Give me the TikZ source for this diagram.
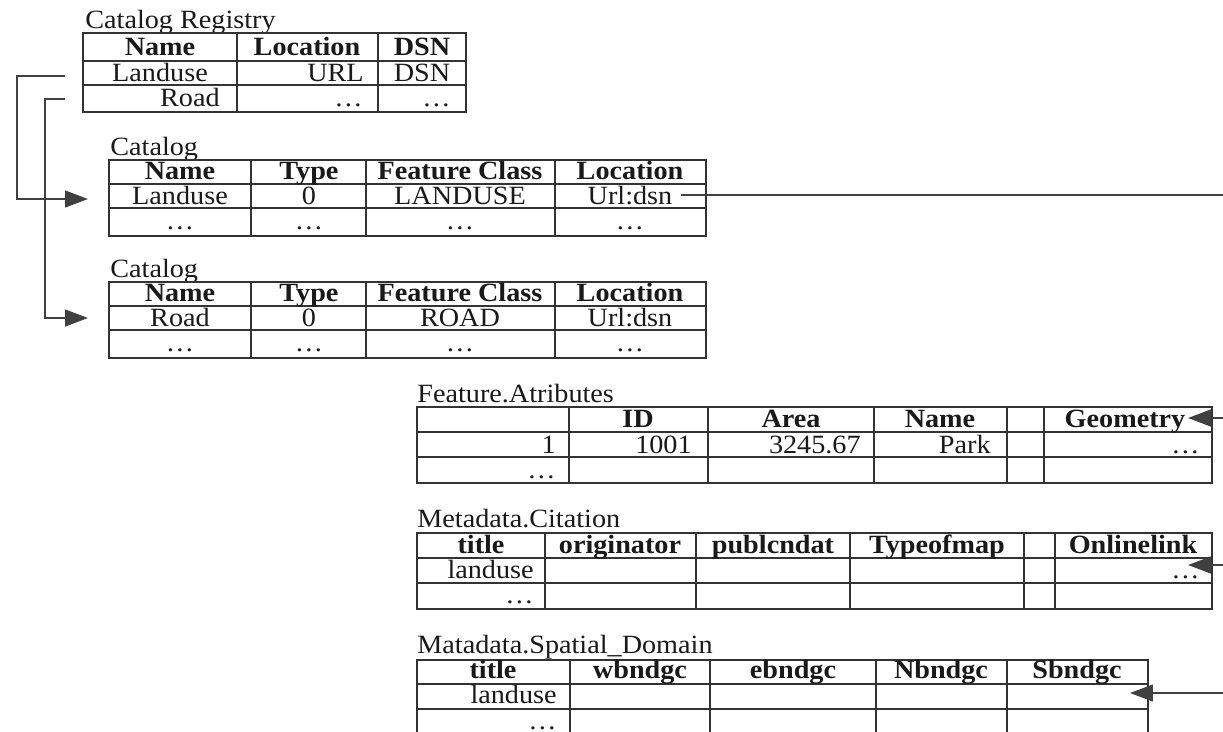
\documentclass[tikz,border=0pt]{standalone}
\usepackage{fontspec}
\setmainfont[FakeStretch=1.07]{Liberation Serif}
\usetikzlibrary{arrows.meta}

\tikzset{
  tabline/.style={draw=black!80, line width=1pt},
  hd/.style={font=\fontsize{15}{18}\selectfont\bfseries},
  conn/.style={draw=black!75, line width=1.2pt},
}

\begin{document}
\begin{tikzpicture}[x=0.02cm, y=-0.02cm,
  every node/.style={font=\fontsize{15}{18}\selectfont, inner sep=0pt, text=black!90},
  >={Triangle[length=13pt, width=9.5pt]}]
  \useasboundingbox (0,0) rectangle (1223,731);
  \clip (0,0) rectangle (1223,731);
  \coordinate (edge) at (1226,0);

  % Catalog registry
  \begin{scope}[shift={(83,33)}]
    \node[anchor=base west] (regT) at (2,-5) {Catalog Registry};
    \draw[tabline] (0,0) rectangle (383,79);
    \foreach \y in {28,52} \draw[tabline] (0,\y) -- (383,\y);
    \foreach \x in {154,295} \draw[tabline] (\x,0) -- (\x,79);
    \node[hd, anchor=base] (regName) at (77,22) {Name};
    \node[hd, anchor=base] (regLoc) at (224,22) {Location};
    \node[hd, anchor=base] (regDsn) at (339,22) {DSN};
    \node[anchor=base] (regLanduse) at (77,48) {Landuse};
    \node[anchor=base east] (regUrl) at (281,48) {URL};
    \node[anchor=base] (regDsnVal) at (339,48) {DSN};
    \node[anchor=base east] (regRoad) at (137,73) {Road};
    \node[anchor=base east] (regDotsA) at (280,73) {\ldots};
    \node[anchor=base east] (regDotsB) at (368,73) {\ldots};
    \coordinate (regOut) at (-18,43);
    \coordinate (regIn) at (-18,66);
  \end{scope}

  % Catalog: landuse
  \begin{scope}[shift={(109,160)}]
    \node[anchor=base west] (catAT) at (1,-5) {Catalog};
    \draw[tabline] (0,0) rectangle (597,76);
    \foreach \y in {24,48} \draw[tabline] (0,\y) -- (597,\y);
    \foreach \x in {142,257,446} \draw[tabline] (\x,0) -- (\x,76);
    \node[hd, anchor=base] (catAName) at (71,19) {Name};
    \node[hd, anchor=base] (catAType) at (200,19) {Type};
    \node[hd, anchor=base] (catAClass) at (351,19) {Feature Class};
    \node[hd, anchor=base] (catALoc) at (521,19) {Location};
    \node[anchor=base] (catALanduse) at (71,44) {Landuse};
    \node[anchor=base] (catAZero) at (200,44) {0};
    \node[anchor=base] (catAFc) at (351,44) {LANDUSE};
    \node[anchor=base] (catAUrl) at (521,44) {Url:dsn};
    \foreach \x/\n in {71/a,200/b,351/c,521/d}
      \node[anchor=base] (catADots\n) at (\x,69) {\ldots};
    \coordinate (catATip) at (-21,39);
  \end{scope}

  % Catalog: road
  \begin{scope}[shift={(109,282)}]
    \node[anchor=base west] (catBT) at (1,-5) {Catalog};
    \draw[tabline] (0,0) rectangle (597,76);
    \foreach \y in {24,48} \draw[tabline] (0,\y) -- (597,\y);
    \foreach \x in {142,257,446} \draw[tabline] (\x,0) -- (\x,76);
    \node[hd, anchor=base] (catBName) at (71,19) {Name};
    \node[hd, anchor=base] (catBType) at (200,19) {Type};
    \node[hd, anchor=base] (catBClass) at (351,19) {Feature Class};
    \node[hd, anchor=base] (catBLoc) at (521,19) {Location};
    \node[anchor=base] (catBRoad) at (71,44) {Road};
    \node[anchor=base] (catBZero) at (200,44) {0};
    \node[anchor=base] (catBFc) at (351,44) {ROAD};
    \node[anchor=base] (catBUrl) at (521,44) {Url:dsn};
    \foreach \x/\n in {71/a,200/b,351/c,521/d}
      \node[anchor=base] (catBDots\n) at (\x,69) {\ldots};
    \coordinate (catBTip) at (-21,36);
  \end{scope}

  % Feature attributes
  \begin{scope}[shift={(417,407)}]
    \node[anchor=base west] (featT) at (0,-5) {Feature.Atributes};
    \draw[tabline] (0,0) rectangle (795,76);
    \foreach \y in {25,50} \draw[tabline] (0,\y) -- (795,\y);
    \foreach \x in {152,291,457,590,627} \draw[tabline] (\x,0) -- (\x,76);
    \node[hd, anchor=base] (featId) at (221,20) {ID};
    \node[hd, anchor=base] (featArea) at (374,20) {Area};
    \node[hd, anchor=base] (featName) at (523,20) {Name};
    \node[hd, anchor=base] (featGeom) at (708,20) {Geometry};
    \node[anchor=base east] (featOne) at (139,46) {1};
    \node[anchor=base east] (featIdVal) at (275,46) {1001};
    \node[anchor=base east] (featAreaVal) at (444,46) {3245.67};
    \node[anchor=base east] (featPark) at (574,46) {Park};
    \node[anchor=base east] (featDotsA) at (783,46) {\ldots};
    \node[anchor=base east] (featDotsB) at (139,71) {\ldots};
    \coordinate (geomTip) at (771,11);
  \end{scope}

  % Metadata citation
  \begin{scope}[shift={(417,533)}]
    \node[anchor=base west] (citeT) at (0,-6) {Metadata.Citation};
    \draw[tabline] (0,0) rectangle (795,76);
    \foreach \y in {25,50} \draw[tabline] (0,\y) -- (795,\y);
    \foreach \x in {128,279,433,607,638} \draw[tabline] (\x,0) -- (\x,76);
    \node[hd, anchor=base] (citeTitle) at (64,20) {title};
    \node[hd, anchor=base] (citeOrig) at (203,20) {originator};
    \node[hd, anchor=base] (citePub) at (356,20) {publcndat};
    \node[hd, anchor=base] (citeType) at (520,20) {Typeofmap};
    \node[hd, anchor=base] (citeLink) at (716,20) {Onlinelink};
    \node[anchor=base east] (citeLanduse) at (117,45) {landuse};
    \node[anchor=base east] (citeDotsA) at (783,45) {\ldots};
    \node[anchor=base east] (citeDotsB) at (117,70) {\ldots};
    \coordinate (citeTip) at (771,32);
  \end{scope}

  % Metadata spatial domain
  \begin{scope}[shift={(417,660)}]
    \node[anchor=base west] (spatT) at (0,-7) {Matadata.Spatial\_Domain};
    \draw[tabline] (0,0) rectangle (731,75);
    \foreach \y in {24,49} \draw[tabline] (0,\y) -- (731,\y);
    \foreach \x in {153,293,459,590} \draw[tabline] (\x,0) -- (\x,75);
    \node[hd, anchor=base] (spatTitle) at (76,18) {title};
    \node[hd, anchor=base] (spatW) at (223,18) {wbndgc};
    \node[hd, anchor=base] (spatE) at (376,18) {ebndgc};
    \node[hd, anchor=base] (spatN) at (524,18) {Nbndgc};
    \node[hd, anchor=base] (spatS) at (660,18) {Sbndgc};
    \node[anchor=base east] (spatLanduse) at (140,43) {landuse};
    \node[anchor=base east] (spatDots) at (140,69) {\ldots};
    \coordinate (spatTip) at (713,33);
  \end{scope}

  % links from the registry to the catalogs
  \draw[conn, ->] (regOut) -- ++(-48,0) |- (catATip);
  \draw[conn, ->] (regIn) -- ++(-20,0) |- (catBTip);

  % links on the right
  \draw[conn] ([xshift=5pt]catAUrl.east) -- (catAUrl.east -| edge);
  \draw[conn, ->] (geomTip -| edge) -- (geomTip);
  \draw[conn, ->] (citeTip -| edge) -- (citeTip);
  \draw[conn, ->] (spatTip -| edge) -- (spatTip);
\end{tikzpicture}
\end{document}
